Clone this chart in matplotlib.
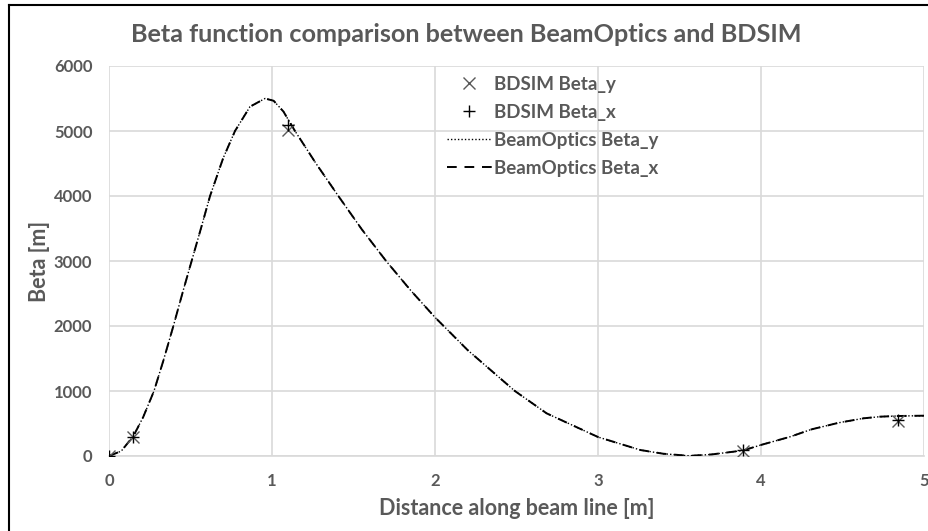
import matplotlib
matplotlib.use("Agg")
import matplotlib.pyplot as plt
from matplotlib.lines import Line2D

plt.rcParams['font.family'] = ['Lato', 'DejaVu Sans']

# BeamOptics curve
s_opt = [0, 0.075, 0.15, 0.21, 0.276, 0.335, 0.395, 0.45, 0.507, 0.565, 0.62, 0.70,
         0.773, 0.865, 0.957, 1.01, 1.07, 1.141, 1.27, 1.407, 1.55, 1.70, 1.85, 2.0,
         2.2, 2.4, 2.49, 2.685, 3.0, 3.26, 3.40, 3.56, 3.70, 3.89, 4.0, 4.18,
         4.31, 4.48, 4.63, 4.73, 4.83, 5.0]
beta_x_opt = [0, 75, 308, 600, 1000, 1480, 2000, 2500, 3000, 3510, 4000, 4580,
              5000, 5374, 5500, 5465, 5300, 5000, 4500, 4000, 3490, 3000, 2550, 2133,
              1630, 1195, 1000, 656, 292, 92, 35, 2, 25, 85, 170, 297,
              410, 513, 580, 605, 615, 620]
beta_y_opt = [0, 75, 308, 600, 1000, 1480, 2000, 2500, 3000, 3510, 4000, 4580,
              5000, 5374, 5500, 5465, 5300, 5000, 4500, 4000, 3490, 3000, 2550, 2133,
              1630, 1195, 1000, 656, 292, 92, 35, 2, 25, 85, 170, 297,
              410, 513, 580, 605, 615, 620]

# BDSIM points
s_bd = [0, 0.15, 1.10, 3.89, 4.84]
beta_x_bd = [0, 300, 5090, 85, 550]
beta_y_bd = [0, 300, 5010, 80, 540]

xticks = [0, 1, 2, 3, 4, 5]
yticks = [0, 1000, 2000, 3000, 4000, 5000, 6000]

TXT = '#595959'
GRID = '#d9d9d9'

W, H = 929, 531
fig = plt.figure(figsize=(W / 100, H / 100), dpi=100)
ax = fig.add_axes([109 / W, 1 - 456 / H, (924 - 109) / W, (456 - 66) / H])

ax.plot(s_opt, beta_y_opt, color='black', lw=1.0, linestyle=(0, (1, 1.5)), zorder=3)
ax.plot(s_opt, beta_x_opt, color='black', lw=1.4, linestyle=(0, (5, 4)), zorder=3)
ax.plot(s_bd, beta_y_bd, linestyle='none', marker='x', color='#595959', ms=8, mew=1.0, zorder=4)
ax.plot(s_bd, beta_x_bd, linestyle='none', marker='+', color='black', ms=9, mew=1.0, zorder=4)

ax.set_xlim(0, 5)
ax.set_ylim(0, 6000)
ax.set_xticks(xticks)
ax.set_yticks(yticks)
ax.grid(True, color=GRID, lw=1.2)
ax.set_axisbelow(True)
for sp in ['top', 'right', 'left']:
    ax.spines[sp].set_visible(False)
ax.spines['bottom'].set_color(GRID)
ax.spines['bottom'].set_linewidth(1.2)
ax.tick_params(length=0, pad=12, labelsize=12, colors=TXT)
for lab in ax.get_xticklabels() + ax.get_yticklabels():
    lab.set_fontweight('bold')

ax.set_xlabel('Distance along beam line [m]', fontsize=15.5, fontweight='bold', color=TXT, labelpad=7)
ax.set_ylabel('Beta [m]', fontsize=15.5, fontweight='bold', color=TXT, labelpad=3)
fig.text(466 / W, 1 - 34 / H, 'Beta function comparison between BeamOptics and BDSIM',
         ha='center', va='center', fontsize=18.2, fontweight='bold', color=TXT)

handles = [
    Line2D([], [], linestyle='none', marker='x', color='#595959', ms=8, mew=1.0),
    Line2D([], [], linestyle='none', marker='+', color='black', ms=9, mew=1.0),
    Line2D([], [], color='black', lw=1.0, linestyle=(0, (1, 1.5))),
    Line2D([], [], color='black', lw=1.4, linestyle=(0, (5, 4))),
]
labels = ['BDSIM Beta_y', 'BDSIM Beta_x', 'BeamOptics Beta_y', 'BeamOptics Beta_x']
leg = ax.legend(handles, labels, loc='upper left', bbox_to_anchor=(447 / W, 1 - 76 / H),
                bbox_transform=fig.transFigure, frameon=False, handlelength=2.4,
                handletextpad=0.1, labelspacing=0.58, fontsize=13.5, borderpad=0,
                borderaxespad=0)
for t in leg.get_texts():
    t.set_color(TXT)
    t.set_fontweight('bold')

# figure border (top and left visible)
fig.add_artist(Line2D([9 / W, 1.0], [1 - 5 / H, 1 - 5 / H], color='black', lw=1.5, transform=fig.transFigure))
fig.add_artist(Line2D([9 / W, 9 / W], [0.0, 1 - 5 / H], color='black', lw=1.5, transform=fig.transFigure))

fig.savefig('out.png', dpi=100)
